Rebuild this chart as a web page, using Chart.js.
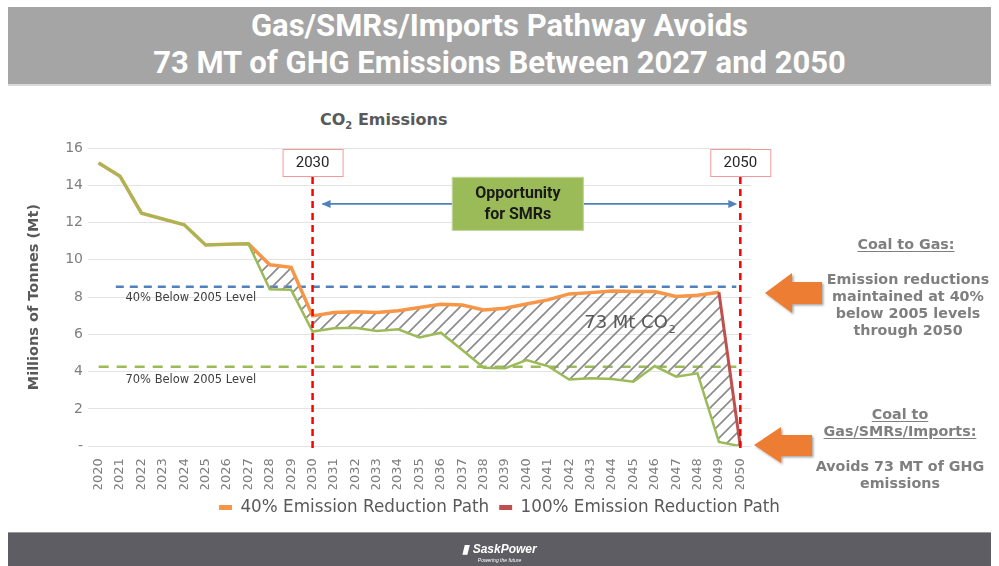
<!DOCTYPE html>
<html>
<head>
<meta charset="utf-8">
<script src="https://cdn.jsdelivr.net/npm/chart.js@4"></script>
<style>
html, body { margin: 0; padding: 0; background: #fff; }
body { width: 999px; height: 566px; position: relative; overflow: hidden; font-family: "DejaVu Sans", sans-serif; }
#chart { position: absolute; left: 0; top: 0; }
#banner {
    position: absolute; left: 8px; top: 7px; width: 983px; height: 77px;
    background: #a5a5a5; border-bottom: 2px solid #d9d9d9;
    color: #fff; text-align: center; line-height: 40px;
    font: bold 31px Roboto, sans-serif;
}
#plotTitle {
    position: absolute; left: 320px; top: 110px; color: #595959;
    font: bold 16px "DejaVu Sans", sans-serif;
}
#plotTitle sub { font-size: 10px; }
.note { position: absolute; width: 200px; text-align: center; color: #7f7f7f; font: bold 14.3px "DejaVu Sans", sans-serif; line-height: 17px; }
.note u { text-underline-offset: 2px; }
#footer { position: absolute; left: 8px; top: 532px; width: 983px; height: 34px; background: #5e5d64; border-top: 1px solid #9a9a9a; }
#logo { position: absolute; left: 0; width: 100%; top: 9px; text-align: center; color: #fff; font: italic bold 12px "Liberation Sans", sans-serif; }
#logo small { display: block; font: italic 5px "Liberation Sans", sans-serif; margin-top: 1px; }
svg { position: absolute; left: 0; top: 0; }
</style>
</head>
<body>
<div id="banner">Gas/SMRs/Imports Pathway Avoids<br>73 MT of GHG Emissions Between 2027 and 2050</div>
<div id="plotTitle">CO<sub>2</sub> Emissions</div>
<canvas id="chart" width="999" height="566"></canvas>

<svg width="999" height="566">
    <defs>
        <filter id="sh" x="-20%" y="-20%" width="150%" height="150%">
            <feDropShadow dx="1.5" dy="1.5" stdDeviation="1.2" flood-color="#000" flood-opacity="0.35"/>
        </filter>
    </defs>
    <polygon filter="url(#sh)" fill="#ed7d31" points="765,293 792,273 792,282 822,282 822,304 792,304 792,313"/>
    <polygon filter="url(#sh)" fill="#ed7d31" points="754,445 781,427 781,435 812,435 812,456 781,456 781,463"/>
</svg>

<div class="note" style="left:806px; top:236px;"><u>Coal to Gas:</u></div>
<div class="note" style="left:808px; top:271px;">Emission reductions<br>maintained at 40%<br>below 2005 levels<br>through 2050</div>
<div class="note" style="left:800px; top:406px;"><u>Coal to<br>Gas/SMRs/Imports:</u></div>
<div class="note" style="left:800px; top:458px;">Avoids 73 MT of GHG<br>emissions</div>

<div id="footer"><div id="logo">&#9646; SaskPower<small>Powering the future</small></div></div>

<script>
const years = ['2020', '2021', '2022', '2023', '2024', '2025', '2026', '2027', '2028', '2029',
    '2030', '2031', '2032', '2033', '2034', '2035', '2036', '2037', '2038', '2039',
    '2040', '2041', '2042', '2043', '2044', '2045', '2046', '2047', '2048', '2049', '2050'];

const path40 = [15.2, 14.48, 12.5, 12.19, 11.88, 10.8, 10.84, 10.86, 9.73, 9.6,
    6.99, 7.17, 7.22, 7.17, 7.27, 7.44, 7.62, 7.58, 7.31, 7.4,
    7.63, 7.85, 8.17, 8.24, 8.33, 8.3, 8.3, 8.03, 8.1, 8.26, null];

const path100 = [null, null, null, null, null, null, null, null, null, null,
    null, null, null, null, null, null, null, null, null, null,
    null, null, null, null, null, null, null, null, null, 8.26, 0];

const pathSmr = [15.2, 14.48, 12.5, 12.19, 11.88, 10.8, 10.84, 10.86, 8.42, 8.39,
    6.15, 6.33, 6.36, 6.18, 6.27, 5.84, 6.09, 5.16, 4.21, 4.18,
    4.62, 4.3, 3.58, 3.64, 3.6, 3.46, 4.3, 3.73, 3.91, 0.23, 0];

const yTicks = [0, 2, 4, 6, 8, 10, 12, 14, 16];

const level40 = 8.55;
const level70 = 4.26;
const markerYears = ['2030', '2050'];
const avoidedFrom = '2027';

// upper edge of the avoided area: 40% path, then the 100% path drop in 2050
const startIdx = years.indexOf(avoidedFrom);
const avoidedTop = years.map((_, i) => (i < startIdx ? null : (path40[i] ?? path100[i])));

const orange = '#f79646';
const red = '#c0504d';
const green = '#9bbb59';
const blue = '#4f81bd';
const textFont = '"DejaVu Sans", sans-serif';

function makeHatch() {
    const c = document.createElement('canvas');
    c.width = 13;
    c.height = 13;
    const g = c.getContext('2d');
    g.strokeStyle = '#8c8c8c';
    g.lineWidth = 1.7;
    g.beginPath();
    g.moveTo(-3, 16); g.lineTo(16, -3);
    g.moveTo(-3, 3); g.lineTo(3, -3);
    g.moveTo(10, 16); g.lineTo(16, 10);
    g.stroke();
    return g.createPattern(c, 'repeat');
}

function dashedH(ctx, x1, x2, y, color, dash) {
    ctx.save();
    ctx.strokeStyle = color;
    ctx.lineWidth = 2.5;
    ctx.setLineDash(dash);
    ctx.beginPath();
    ctx.moveTo(x1, y);
    ctx.lineTo(x2, y);
    ctx.stroke();
    ctx.restore();
}

function arrowHead(ctx, x, y, dir) {
    ctx.beginPath();
    ctx.moveTo(x, y);
    ctx.lineTo(x - dir * 9, y - 4);
    ctx.lineTo(x - dir * 9, y + 4);
    ctx.closePath();
    ctx.fill();
}

const levelLines = {
    id: 'levelLines',
    beforeDatasetsDraw(chart) {
        const { ctx, scales: { x, y } } = chart;
        const endX = x.getPixelForValue(years.length - 1) - 4;
        dashedH(ctx, x.getPixelForValue(0.8), endX, y.getPixelForValue(level40), blue, [8, 6]);
        dashedH(ctx, x.getPixelForValue(0), endX, y.getPixelForValue(level70), green, [10, 8]);
    },
};

const annotations = {
    id: 'annotations',
    afterDatasetsDraw(chart) {
        const { ctx, scales: { x, y } } = chart;
        ctx.save();

        ctx.fillStyle = '#404040';
        ctx.font = '11.5px ' + textFont;
        ctx.textBaseline = 'middle';
        ctx.textAlign = 'left';
        ctx.fillText('40% Below 2005 Level', x.getPixelForValue(1.25), y.getPixelForValue(level40) + 11);
        ctx.fillText('70% Below 2005 Level', x.getPixelForValue(1.25), y.getPixelForValue(level70) + 13);

        // avoided emissions label
        ctx.fillStyle = '#595959';
        ctx.font = '18px ' + textFont;
        const lx = x.getPixelForValue(22.7);
        const ly = y.getPixelForValue(6.6);
        ctx.fillText('73 Mt CO', lx, ly);
        const w = ctx.measureText('73 Mt CO').width;
        ctx.font = '11px ' + textFont;
        ctx.fillText('2', lx + w + 1, ly + 7);

        // year markers
        const boxTop = y.getPixelForValue(16) + 1;
        markerYears.forEach((yr) => {
            const px = x.getPixelForValue(years.indexOf(yr));
            ctx.strokeStyle = '#ff0000';
            ctx.lineWidth = 2.5;
            ctx.setLineDash([7, 5]);
            ctx.beginPath();
            ctx.moveTo(px, boxTop + 28);
            ctx.lineTo(px, y.bottom + 6);
            ctx.stroke();
            ctx.setLineDash([]);
            ctx.fillStyle = '#fff';
            ctx.fillRect(px - 30, boxTop, 60, 28);
            ctx.strokeStyle = '#f29a9a';
            ctx.lineWidth = 1;
            ctx.strokeRect(px - 30 + 0.5, boxTop + 0.5, 60, 27);
            ctx.fillStyle = '#262626';
            ctx.font = '15px Roboto, sans-serif';
            ctx.textAlign = 'center';
            ctx.fillText(yr, px, boxTop + 14);
        });

        // opportunity arrow and box
        const x30 = x.getPixelForValue(years.indexOf(markerYears[0]));
        const x50 = x.getPixelForValue(years.indexOf(markerYears[1]));
        const ay = y.getPixelForValue(13);
        ctx.strokeStyle = blue;
        ctx.fillStyle = blue;
        ctx.lineWidth = 1.8;
        ctx.beginPath();
        ctx.moveTo(x30 + 10, ay);
        ctx.lineTo(x50 - 6, ay);
        ctx.stroke();
        arrowHead(ctx, x30 + 9, ay, -1);
        arrowHead(ctx, x50 - 3, ay, 1);

        const bx = x.getPixelForValue(19.6);
        ctx.fillStyle = green;
        ctx.fillRect(bx - 66, ay - 27, 132, 54);
        ctx.strokeStyle = '#c5d9a0';
        ctx.lineWidth = 1;
        ctx.strokeRect(bx - 66 + 0.5, ay - 27 + 0.5, 131, 53);
        ctx.fillStyle = '#1a1a1a';
        ctx.font = 'bold 16px Roboto, sans-serif';
        ctx.textAlign = 'center';
        ctx.fillText('Opportunity', bx, ay - 10);
        ctx.fillText('for SMRs', bx, ay + 11);

        ctx.restore();
    },
};

new Chart(document.getElementById('chart'), {
    type: 'line',
    data: {
        labels: years,
        datasets: [{
            label: '40% Emission Reduction Path',
            data: path40,
            borderColor: orange,
            backgroundColor: orange,
            borderWidth: 3.5,
            pointRadius: 0,
            order: 2,
        }, {
            label: '100% Emission Reduction Path',
            data: path100,
            borderColor: red,
            backgroundColor: red,
            borderWidth: 3,
            pointRadius: 0,
            order: 0,
        }, {
            label: 'Gas/SMRs/Imports Path',
            data: pathSmr,
            borderColor: green,
            backgroundColor: green,
            borderWidth: 2.5,
            pointRadius: 0,
            order: 1,
        }, {
            label: 'Avoided',
            data: avoidedTop,
            borderWidth: 0,
            borderColor: 'rgba(0,0,0,0)',
            backgroundColor: makeHatch(),
            pointRadius: 0,
            fill: { target: 2 },
            order: 3,
        }],
    },
    options: {
        responsive: false,
        animation: false,
        layout: { padding: { left: 0, right: 0, top: 148, bottom: 40 } },
        plugins: {
            legend: {
                position: 'bottom',
                labels: {
                    color: '#595959',
                    font: { family: 'DejaVu Sans', size: 16.8 },
                    boxWidth: 13,
                    boxHeight: 5,
                    padding: 10,
                    filter: (item) => item.datasetIndex < 2,
                    sort: (a, b) => a.datasetIndex - b.datasetIndex,
                    generateLabels(chart) {
                        const items = Chart.defaults.plugins.legend.labels.generateLabels(chart);
                        items.forEach((it) => { it.lineWidth = 0; });
                        return items;
                    },
                },
            },
            tooltip: { enabled: false },
        },
        scales: {
            x: {
                offset: true,
                grid: { display: false },
                border: { display: false },
                ticks: {
                    color: '#7f7f7f',
                    font: { family: 'DejaVu Sans', size: 13 },
                    autoSkip: false,
                    minRotation: 90,
                    maxRotation: 90,
                    padding: 4,
                },
                afterFit: (s) => { s.height = 43; },
            },
            y: {
                min: 0,
                max: 16,
                afterBuildTicks: (s) => { s.ticks = yTicks.map((v) => ({ value: v })); },
                grid: { color: '#e3e3e3', drawTicks: false },
                border: { display: false },
                ticks: {
                    color: '#7f7f7f',
                    font: { family: 'DejaVu Sans', size: 14 },
                    padding: 5,
                    callback: (v) => (v === 0 ? '-' : v),
                },
                title: {
                    display: true,
                    text: 'Millions of Tonnes (Mt)',
                    color: '#595959',
                    font: { family: 'DejaVu Sans', size: 14.5, weight: 'bold' },
                    padding: { top: 26, bottom: 0 },
                },
                afterFit: (s) => { s.width = 88; },
            },
            side: {
                position: 'right',
                grid: { display: false },
                border: { display: false },
                ticks: { display: false },
                afterFit: (s) => { s.width = 248; },
            },
        },
    },
    plugins: [levelLines, annotations],
});
</script>
</body>
</html>
